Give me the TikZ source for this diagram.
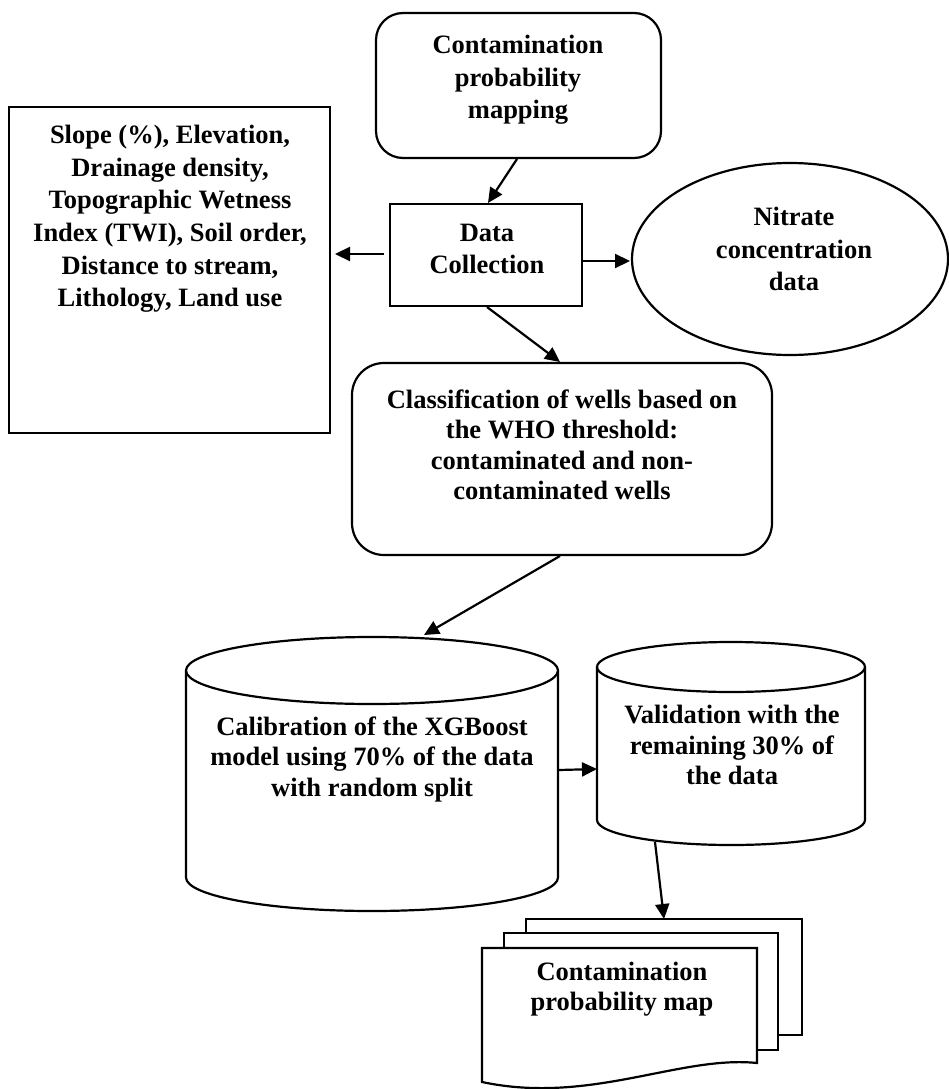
\documentclass[tikz,border=0pt]{standalone}
\usepackage{fontspec}
\setmainfont{Liberation Serif}
\usetikzlibrary{arrows.meta,shapes.geometric}
\begin{document}
\begin{tikzpicture}[x=1pt,y=-1pt,
  shp/.style={draw, line width=2.2pt, inner sep=0pt},
  txt/.style={font=\bfseries\fontsize{26.5}{32.6}\selectfont, align=center, inner sep=0pt},
  txtb/.style={font=\bfseries\fontsize{26.5}{30.5}\selectfont, align=center, inner sep=0pt},
  arr/.style={line width=2.2pt, -{Triangle[length=15pt,width=14pt]}}]
\useasboundingbox (0,0) rectangle (949,1089);

% top rounded box
\node[shp, rounded corners=27pt, minimum width=285pt, minimum height=145pt] (cpm) at (518.5,85.5) {};
\node[txt] (cpmt) at (518,80) {Contamination\\probability\\mapping};

% left factor box
\node[shp, minimum width=321pt, minimum height=326pt] (fac) at (169.5,270) {};
\node[txt] (fact) at (170,219) {Slope (\%), Elevation,\\Drainage density,\\Topographic Wetness\\Index (TWI), Soil order,\\Distance to stream,\\Lithology, Land use};

% data collection
\node[shp, minimum width=192pt, minimum height=102pt] (dc) at (486,255) {};
\node[txt] (dct) at (487,249) {Data\\Collection};

% nitrate ellipse
\node[shp, ellipse, minimum width=316pt, minimum height=192pt] (nit) at (790,259) {};
\node[txt] (nitt) at (794,249) {Nitrate\\concentration\\data};

% classification
\node[shp, rounded corners=32pt, minimum width=420pt, minimum height=192pt] (cls) at (562,459) {};
\node[txtb] (clst) at (562,445) {Classification of wells based on\\the WHO threshold:\\contaminated and non-\\contaminated wells};

% big cylinder
\draw[shp] (186,670.5) -- (186,877.5) arc[start angle=180, end angle=360, x radius=186pt, y radius=33.5pt] -- (558,670.5);
\draw[shp] (372,670.5) ellipse[x radius=186pt, y radius=33.5pt];
\node[txtb] (calt) at (372,759) {Calibration of the XGBoost\\model using 70\% of the data\\with random split};

% small cylinder
\draw[shp] (597,667) -- (597,820) arc[start angle=180, end angle=360, x radius=134pt, y radius=25pt] -- (865,667);
\draw[shp] (731,667) ellipse[x radius=134pt, y radius=25pt];
\node[txtb] (valt) at (732,745) {Validation with the\\remaining 30\% of\\the data};

% multidocument
\draw[shp, fill=white] (526,919) rectangle (802,1035);
\draw[shp, fill=white] (504,933) rectangle (778,1050);
\draw[shp, fill=white] (482,948) -- (757,948) -- (757,1063)
   .. controls (680,1055) and (590,1105) .. (482,1082) -- cycle;
\node[txtb] (mapt) at (622,989) {Contamination\\probability map};

% connector end points
\coordinate (a1s) at (517,159);  \coordinate (a1e) at (488,203);
\coordinate (a2s) at (384,254);  \coordinate (a2e) at (335,254);
\coordinate (a3s) at (583,261);  \coordinate (a3e) at (630,261);
\coordinate (a4s) at (487,307);  \coordinate (a4e) at (560,362);
\coordinate (a5s) at (560,556);  \coordinate (a5e) at (424,635);
\coordinate (a6s) at (559,770);  \coordinate (a6e) at (597,769);
\coordinate (a7s) at (655,842);  \coordinate (a7e) at (664,919);

\draw[arr] (a1s) -- (a1e);
\draw[arr] (a2s) -- (a2e);
\draw[arr] (a3s) -- (a3e);
\draw[arr] (a4s) -- (a4e);
\draw[arr] (a5s) -- (a5e);
\draw[arr] (a6s) -- (a6e);
\draw[arr] (a7s) -- (a7e);
\end{tikzpicture}
\end{document}
